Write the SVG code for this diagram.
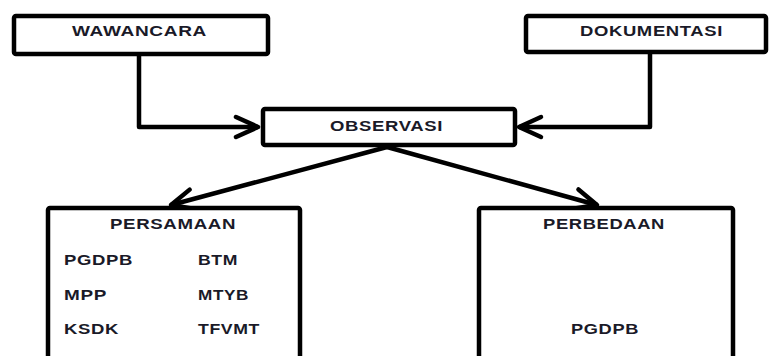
<svg xmlns="http://www.w3.org/2000/svg" width="770" height="356" viewBox="0 0 770 356">
<defs>
<marker id="arr" markerUnits="userSpaceOnUse" markerWidth="40" markerHeight="40" viewBox="-30 -20 40 40" refX="0" refY="0" orient="auto">
<path d="M -22 -10 L 0 0 L -22 10" fill="none" stroke="#000" stroke-width="4.5" stroke-linecap="round" stroke-linejoin="round"/>
</marker>
</defs>
<style>
.box{fill:#fff;stroke:#000;stroke-width:4.5}
.t{font-family:"Liberation Sans",Arial,sans-serif;font-weight:bold;font-size:14.5px;letter-spacing:0.5px;fill:#1a1a28}
.c{stroke:#000;stroke-width:4.5;fill:none;stroke-linejoin:round}
</style>
<rect width="770" height="356" fill="#fff"/>
<g id="connectors">
<path class="c" d="M 139 54 L 139 127 L 258 127" marker-end="url(#arr)"/>
<path class="c" d="M 650 52 L 650 127 L 519 127" marker-end="url(#arr)"/>
<path class="c" d="M 387 147 L 171 205" marker-end="url(#arr)"/>
<path class="c" d="M 387 147 L 597 205" marker-end="url(#arr)"/>
</g>
<g id="wawancara">
<rect class="box" x="14" y="16" width="254" height="38" rx="2"/>
<text class="t" x="72" y="36" textLength="135" lengthAdjust="spacingAndGlyphs">WAWANCARA</text>
</g>
<g id="dokumentasi">
<rect class="box" x="526" y="16" width="240" height="36" rx="2"/>
<text class="t" x="580" y="36" textLength="143" lengthAdjust="spacingAndGlyphs">DOKUMENTASI</text>
</g>
<g id="observasi">
<rect class="box" x="263" y="109" width="252" height="36" rx="2"/>
<text class="t" x="330" y="131" textLength="113" lengthAdjust="spacingAndGlyphs">OBSERVASI</text>
</g>
<g id="persamaan">
<rect class="box" x="48" y="208" width="252" height="170" rx="2"/>
<text class="t" x="110" y="229" textLength="126" lengthAdjust="spacingAndGlyphs">PERSAMAAN</text>
<text class="t" x="64" y="265" textLength="69" lengthAdjust="spacingAndGlyphs">PGDPB</text>
<text class="t" x="198" y="265" textLength="40" lengthAdjust="spacingAndGlyphs">BTM</text>
<text class="t" x="64" y="300" textLength="43" lengthAdjust="spacingAndGlyphs">MPP</text>
<text class="t" x="198" y="300" textLength="51" lengthAdjust="spacingAndGlyphs">MTYB</text>
<text class="t" x="64" y="334" textLength="55" lengthAdjust="spacingAndGlyphs">KSDK</text>
<text class="t" x="198" y="334" textLength="62" lengthAdjust="spacingAndGlyphs">TFVMT</text>
</g>
<g id="perbedaan">
<rect class="box" x="479" y="208" width="254" height="170" rx="2"/>
<text class="t" x="543" y="229" textLength="122" lengthAdjust="spacingAndGlyphs">PERBEDAAN</text>
<text class="t" x="571" y="334" textLength="68" lengthAdjust="spacingAndGlyphs">PGDPB</text>
</g>
</svg>
